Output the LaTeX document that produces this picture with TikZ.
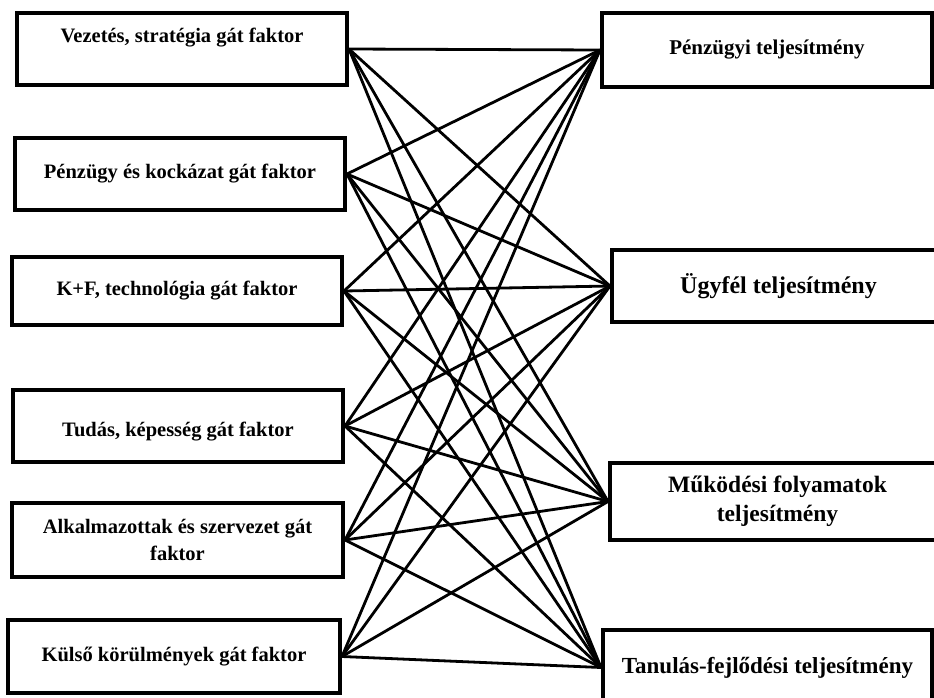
\documentclass[tikz,border=0pt]{standalone}
\usepackage{fontspec}
\setmainfont{Liberation Serif}
\begin{document}
\begin{tikzpicture}[x=1pt,y=-1pt,
  box/.style={draw=black, line width=4pt, fill=white, inner sep=0pt,
    align=center, font=\bfseries},
  lbox/.style={box, font=\bfseries\fontsize{20.5}{27}\selectfont},
  link/.style={draw=black, line width=2.8pt}]
\useasboundingbox (0,0) rectangle (934,697);
\clip (0,0) rectangle (934,697);
\fill[white] (0,0) rectangle (934,697);

% gát faktorok (left column)
\node[lbox, minimum width=330pt, minimum height=72pt] (L1) at (182,49)
  {Vezetés, stratégia gát faktor\\~};
\node[lbox, minimum width=330pt, minimum height=72pt] (L2) at (180,174)
  {Pénzügy és kockázat gát faktor};
\node[lbox, minimum width=330pt, minimum height=68pt] (L3) at (177,291)
  {K+F, technológia gát faktor};
\node[lbox, minimum width=330pt, minimum height=72pt] (L4) at (178,426)
  {\rule{0pt}{26pt}Tudás, képesség gát faktor};
\node[lbox, minimum width=331pt, minimum height=74pt] (L5) at (177.5,540)
  {Alkalmazottak és szervezet gát\\faktor};
\node[lbox, minimum width=332pt, minimum height=73pt] (L6) at (174,656.5)
  {Külső körülmények gát faktor};

% teljesítmény dimenziók (right column)
\node[box, font=\bfseries\fontsize{21}{27}\selectfont,
  minimum width=330pt, minimum height=74pt] (R1) at (767,50)
  {Pénzügyi teljesítmény};
\node[box, font=\bfseries\fontsize{24}{29}\selectfont,
  minimum width=333pt, minimum height=72pt] (R2) at (778.5,286)
  {Ügyfél teljesítmény};
\node[box, font=\bfseries\fontsize{23.5}{29}\selectfont,
  minimum width=335pt, minimum height=77pt] (R3) at (777.5,501.5)
  {Működési folyamatok\\teljesítmény};
\node[box, font=\bfseries\fontsize{23}{29}\selectfont,
  minimum width=329pt, minimum height=75pt] (R4) at (767.5,667.5)
  {Tanulás-fejlődési teljesítmény};

% every factor is linked to every performance dimension
\foreach \i in {1,...,6}
  \foreach \j in {1,...,4}
    \draw[link] (L\i.east) -- (R\j.west);
\end{tikzpicture}
\end{document}
